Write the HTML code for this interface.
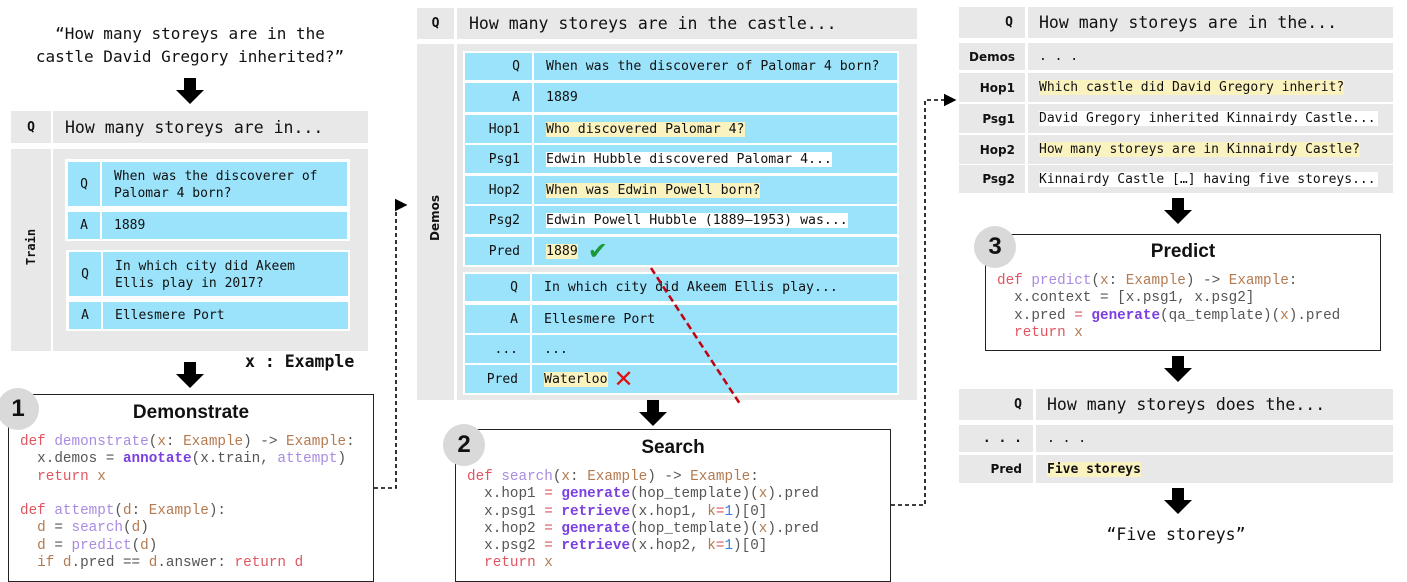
<!DOCTYPE html>
<html><head><meta charset="utf-8"><style>
body{margin:0;width:1407px;height:582px;background:#fff;position:relative;overflow:hidden;font-family:"DejaVu Sans Mono",monospace;color:#111}
.a{position:absolute;box-sizing:border-box}
.g{background:#e8e8e8}
.b{background:#9be3fb}
.t{display:flex;align-items:center;white-space:nowrap}
.r{justify-content:flex-end;padding-right:10px}
.c{justify-content:center}
.y{background:#fbf3bf}
.w{background:#fff}
.box{border:1.5px solid #222;background:#fff}
.num{position:absolute;width:42px;height:42px;border-radius:50%;background:#d9d9d9;font:bold 24px "Liberation Sans",sans-serif;display:flex;align-items:center;justify-content:center}
.ttl{position:absolute;font:bold 19px "Liberation Sans",sans-serif;text-align:center}
.code{position:absolute;font:14.3px/17.3px "Liberation Mono",monospace;color:#555;white-space:pre}
.kw{color:#e05560}.fn{color:#a98be0}.ty{color:#b37a50}.bf{color:#7a3fe0;font-weight:bold}.n{color:#3a7ee0}
.lbl{font:bold 12px "DejaVu Sans",sans-serif}
</style></head><body>

<!-- LEFT COLUMN -->
<div class="a" style="left:0;top:22px;width:380px;text-align:center;font-size:16px;line-height:23px">“How many storeys are in the<br>castle David Gregory inherited?”</div>
<svg class="a" style="left:0;top:0" width="1407" height="582">
<defs><marker id="ah" markerWidth="8" markerHeight="8" refX="7" refY="4" orient="auto"><path d="M0,0 L8,4 L0,8z" fill="#000"/></marker></defs>
<g fill="#000">
<path d="M184,78h12v12h8l-14,14l-14,-14h8z"/>
<path d="M184,362h12v12h8l-14,14l-14,-14h8z"/>
<path d="M647,400h12v12h8l-14,14l-14,-14h8z"/>
<path d="M1172,198h12v12h8l-14,14l-14,-14h8z"/>
<path d="M1172,356h12v12h8l-14,14l-14,-14h8z"/>
<path d="M1172,488h12v12h8l-14,14l-14,-14h8z"/>
</g>
<path d="M374,488H396V205H406" fill="none" stroke="#000" stroke-width="1.6" stroke-dasharray="4,3" marker-end="url(#ah)"/>
<path d="M891,505H925V100H955" fill="none" stroke="#000" stroke-width="1.6" stroke-dasharray="4,3" marker-end="url(#ah)"/>
</svg>

<div class="a g t c" style="left:11px;top:111px;width:40px;height:32px;font-size:13px;font-weight:bold">Q</div>
<div class="a g t" style="left:53px;top:111px;width:315px;height:32px;font-size:16.5px;padding-left:12px">How many storeys are in...</div>
<div class="a g" style="left:11px;top:149px;width:40px;height:202px"></div>
<div class="a lbl" style="left:11px;top:240px;width:40px;text-align:center;transform:rotate(-90deg);font-family:'DejaVu Sans Mono',monospace">Train</div>
<div class="a g" style="left:53px;top:149px;width:315px;height:202px"></div>
<div class="a w" style="left:65px;top:159px;width:285px;height:82px"></div>
<div class="a b t c" style="left:68px;top:162px;width:32px;height:44px;font-size:13px">Q</div>
<div class="a b" style="left:102px;top:162px;width:245px;height:44px;font-size:13px;line-height:17px;padding:6px 0 0 12px">When was the discoverer of<br>Palomar 4 born?</div>
<div class="a b t c" style="left:68px;top:212px;width:32px;height:27px;font-size:13px">A</div>
<div class="a b t" style="left:102px;top:212px;width:245px;height:27px;font-size:13px;padding-left:12px">1889</div>
<div class="a w" style="left:66px;top:250px;width:284px;height:81px"></div>
<div class="a b t c" style="left:69px;top:252px;width:32px;height:44px;font-size:13px">Q</div>
<div class="a b" style="left:103px;top:252px;width:245px;height:44px;font-size:13px;line-height:17px;padding:6px 0 0 12px">In which city did Akeem<br>Ellis play in 2017?</div>
<div class="a b t c" style="left:69px;top:302px;width:32px;height:27px;font-size:13px">A</div>
<div class="a b t" style="left:103px;top:302px;width:245px;height:27px;font-size:13px;padding-left:12px">Ellesmere Port</div>
<div class="a" style="left:245px;top:352px;font-size:16.5px;font-weight:bold">x : Example</div>

<div class="a box" style="left:8px;top:394px;width:366px;height:188px"></div>
<div class="num" style="left:-3px;top:388px">1</div>
<div class="ttl" style="left:8px;top:402px;width:366px">Demonstrate</div>
<div class="code" style="left:20px;top:434px"><span class="kw">def</span> <span class="fn">demonstrate</span>(<span class="ty">x</span>: <span class="ty">Example</span>) -&gt; <span class="ty">Example</span>:
  x.demos = <span class="bf">annotate</span>(x.train, <span class="fn">attempt</span>)
  <span class="kw">return</span> <span class="ty">x</span>

<span class="kw">def</span> <span class="fn">attempt</span>(<span class="ty">d</span>: <span class="ty">Example</span>):
  <span class="ty">d</span> = <span class="fn">search</span>(<span class="ty">d</span>)
  <span class="ty">d</span> = <span class="fn">predict</span>(<span class="ty">d</span>)
  <span class="ty">if d</span>.pred == <span class="ty">d</span>.answer: <span class="kw">return d</span></div>

<!-- MIDDLE COLUMN -->
<div class="a g t c" style="left:417px;top:8px;width:37px;height:31px;font-size:13px;font-weight:bold">Q</div>
<div class="a g t" style="left:457px;top:8px;width:460px;height:31px;font-size:16.5px;padding-left:12px">How many storeys are in the castle...</div>
<div class="a g" style="left:417px;top:44px;width:37px;height:356px"></div>
<div class="a lbl" style="left:415px;top:214px;width:40px;text-align:center;transform:rotate(-90deg)">Demos</div>
<div class="a g" style="left:457px;top:44px;width:460px;height:356px"></div>
<div class="a w" style="left:463px;top:51px;width:436px;height:216px"></div>
<div class="a w" style="left:463px;top:272px;width:436px;height:123px"></div>
<div id="mid"></div>
<svg class="a" style="left:0;top:0" width="1407" height="582"><line x1="651" y1="268" x2="740" y2="404" stroke="#c00010" stroke-width="2.5" stroke-dasharray="7,4"/></svg>

<div class="a box" style="left:455px;top:429px;width:436px;height:153px"></div>
<div class="num" style="left:443px;top:424px">2</div>
<div class="ttl" style="left:455px;top:437px;width:436px">Search</div>
<div class="code" style="left:467px;top:469px"><span class="kw">def</span> <span class="fn">search</span>(<span class="ty">x</span>: <span class="ty">Example</span>) -&gt; <span class="ty">Example</span>:
  x.hop1 <span class="kw">=</span> <span class="bf">generate</span>(hop_template)(<span class="ty">x</span>).pred
  x.psg1 <span class="kw">=</span> <span class="bf">retrieve</span>(x.hop1, <span class="ty">k</span><span class="kw">=</span><span class="n">1</span>)[0]
  x.hop2 <span class="kw">=</span> <span class="bf">generate</span>(hop_template)(<span class="ty">x</span>).pred
  x.psg2 <span class="kw">=</span> <span class="bf">retrieve</span>(x.hop2, <span class="ty">k</span><span class="kw">=</span><span class="n">1</span>)[0]
  <span class="kw">return</span> <span class="ty">x</span></div>

<!-- RIGHT COLUMN -->
<div class="a g t r" style="left:959px;top:7px;width:66px;height:31px;font-size:13px;font-weight:bold;padding-right:12px">Q</div>
<div class="a g t" style="left:1028px;top:7px;width:365px;height:31px;font-size:16.5px;padding-left:11px">How many storeys are in the...</div>
<div class="a g t r lbl" style="left:959px;top:43px;width:66px;height:27px">Demos</div>
<div class="a g t" style="left:1028px;top:43px;width:365px;height:27px;font-size:13px;padding-left:11px">. . .</div>
<div class="a g t r lbl" style="left:959px;top:73px;width:66px;height:29px">Hop1</div>
<div class="a g t" style="left:1028px;top:73px;width:365px;height:29px;font-size:13px;padding-left:11px"><span class="y">Which castle did David Gregory inherit?</span></div>
<div class="a g t r lbl" style="left:959px;top:104px;width:66px;height:29px">Psg1</div>
<div class="a g t" style="left:1028px;top:104px;width:365px;height:29px;font-size:13px;padding-left:11px"><span class="w" style="padding-right:2px">David Gregory inherited Kinnairdy Castle...</span></div>
<div class="a g t r lbl" style="left:959px;top:135px;width:66px;height:29px">Hop2</div>
<div class="a g t" style="left:1028px;top:135px;width:365px;height:29px;font-size:13px;padding-left:11px"><span class="y">How many storeys are in Kinnairdy Castle?</span></div>
<div class="a g t r lbl" style="left:959px;top:165px;width:66px;height:28px">Psg2</div>
<div class="a g t" style="left:1028px;top:165px;width:365px;height:28px;font-size:13px;padding-left:11px"><span class="w" style="padding-right:2px">Kinnairdy Castle […] having five storeys...</span></div>

<div class="a box" style="left:985px;top:234px;width:396px;height:117px"></div>
<div class="num" style="left:974px;top:226px">3</div>
<div class="ttl" style="left:985px;top:241px;width:396px">Predict</div>
<div class="code" style="left:997px;top:273px"><span class="kw">def</span> <span class="fn">predict</span>(<span class="ty">x</span>: <span class="ty">Example</span>) -&gt; <span class="ty">Example</span>:
  x.context = [x.psg1, x.psg2]
  x.pred <span class="kw">=</span> <span class="bf">generate</span>(qa_template)(<span class="ty">x</span>).pred
  <span class="kw">return</span> <span class="ty">x</span></div>

<div class="a g t r" style="left:959px;top:389px;width:74px;height:31px;font-size:13px;font-weight:bold;padding-right:11px">Q</div>
<div class="a g t" style="left:1036px;top:389px;width:357px;height:31px;font-size:16.5px;padding-left:11px">How many storeys does the...</div>
<div class="a g t r" style="left:959px;top:425px;width:74px;height:27px;font-size:13px;font-weight:bold;padding-right:11px">. . .</div>
<div class="a g t" style="left:1036px;top:425px;width:357px;height:27px;font-size:13px;padding-left:11px">. . .</div>
<div class="a g t r lbl" style="left:959px;top:455px;width:74px;height:28px;padding-right:11px">Pred</div>
<div class="a g t" style="left:1036px;top:455px;width:357px;height:28px;font-size:13px;font-weight:bold;padding-left:11px"><span class="y">Five storeys</span></div>
<div class="a" style="left:1076px;top:525px;width:200px;text-align:center;font-size:16.5px">“Five storeys”</div>

<script>
var rows=[["Q",53,80,"When was the discoverer of Palomar 4 born?",""],["A",83,112,"1889",""],["Hop1",115,143,"Who discovered Palomar 4?","y"],["Psg1",145,173,"Edwin Hubble discovered Palomar 4...","w"],["Hop2",176,204,"When was Edwin Powell born?","y"],["Psg2",206,234,"Edwin Powell Hubble (1889–1953) was...","w"],["Pred",237,265,"1889","y","ok"],
["Q",274,301,"In which city did Akeem Ellis play...",""],["A",305,333,"Ellesmere Port",""],["...",335,363,"...",""],["Pred",365,393,"Waterloo","y","no"]];
var h="";rows.forEach(function(r){var lw=r[1]>=270?65:67;var tl=465+lw+2;
h+='<div class="a b t r" style="left:465px;top:'+r[1]+'px;width:'+lw+'px;height:'+(r[2]-r[1])+'px;font-size:13px;padding-right:12px">'+r[0]+'</div>';
var s=r[4]?'<span class="'+r[4]+'">'+r[3]+'</span>':r[3];
if(r[5]=="ok")s+=' <span style="color:#1a9a3a;font-size:24px;font-family:\'DejaVu Sans\';margin-left:10px">✔</span>';
if(r[5]=="no")s+=' <span style="color:#e01010;font-size:24px;font-family:\'DejaVu Sans\';margin-left:6px">✕</span>';
h+='<div class="a b t" style="left:'+tl+'px;top:'+r[1]+'px;width:'+(897-tl)+'px;height:'+(r[2]-r[1])+'px;font-size:13.2px;padding-left:12px">'+s+'</div>';});
document.getElementById("mid").innerHTML=h;
</script>
</body></html>
